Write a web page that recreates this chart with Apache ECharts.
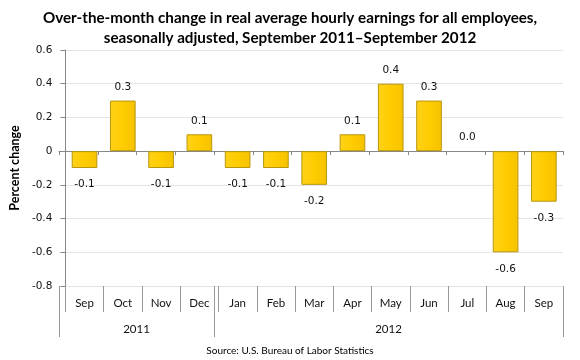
<!DOCTYPE html>
<html><head><meta charset="utf-8">
<script src="https://cdn.jsdelivr.net/npm/echarts@6/dist/echarts.min.js"></script>
<style>html,body{margin:0;padding:0;background:#fff}#c{width:580px;height:360px}</style>
</head><body><div id="c"></div>
<script>
var months = ['Sep','Oct','Nov','Dec','Jan','Feb','Mar','Apr','May','Jun','Jul','Aug','Sep'];
var values = [-0.1, 0.3, -0.1, 0.1, -0.1, -0.1, -0.2, 0.1, 0.4, 0.3, 0.0, -0.6, -0.3];
var years = ['2011', '2012'];
var yearStarts = [0, 4, 13];
var yTicks = [-0.8, -0.6, -0.4, -0.2, 0, 0.2, 0.4, 0.6];

var chart = echarts.init(document.getElementById('c'), null, {renderer: 'canvas'});
var G = {left: 59, right: 17, top: 50, bottom: 74};
var yearLabelPos = [];
for (var i = 0; i < years.length; i++) yearLabelPos.push((yearStarts[i] + yearStarts[i + 1]) / 2);

var numFont = 'DejaVu Sans';
var txtFont = 'Lato';

chart.setOption({
  animation: false,
  title: {
    text: 'Over-the-month change in real average hourly earnings for all employees,\nseasonally adjusted, September 2011\u2013September 2012',
    left: 'center', top: 3,
    padding: [5, 58, 5, 0],
    textStyle: {fontFamily: txtFont, fontWeight: 'bold', fontSize: 15.2, lineHeight: 20, color: '#000'}
  },
  graphic: [{
    type: 'text', x: 290, y: 351,
    style: {text: 'Source: U.S. Bureau of Labor Statistics', fontFamily: txtFont, fontSize: 10, fill: '#000', textAlign: 'center', textVerticalAlign: 'middle'}
  }],
  grid: [
    Object.assign({}, G),
    Object.assign({}, G),
    Object.assign({}, G)
  ],
  xAxis: [
    {
      gridIndex: 0, type: 'category', data: months, position: 'bottom',
      axisLine: {show: false, onZero: false},
      axisTick: {show: true, alignWithLabel: false, interval: 0, length: 26, lineStyle: {color: '#999'}},
      axisLabel: {interval: 0, margin: 11, fontFamily: txtFont, fontSize: 11.5, color: '#111'},
      splitLine: {show: false}
    },
    {
      gridIndex: 1, type: 'value', min: 0, max: months.length, position: 'bottom',
      axisLine: {show: false, onZero: false},
      axisTick: {show: true, customValues: yearStarts, length: 51, lineStyle: {color: '#999'}},
      axisLabel: {show: true, customValues: yearLabelPos, margin: 37, fontFamily: txtFont, fontSize: 11.5, color: '#111',
        formatter: function (v) { var k = yearLabelPos.indexOf(v); return k >= 0 ? years[k] : ''; }},
      splitLine: {show: false}
    },
    {
      gridIndex: 2, type: 'category', data: months,
      axisLine: {show: true, onZero: true, lineStyle: {color: '#888'}},
      axisTick: {show: true, interval: 0, length: 4, lineStyle: {color: '#888'}},
      axisLabel: {show: false},
      splitLine: {show: false}
    }
  ],
  yAxis: [
    {
      gridIndex: 0, type: 'value', min: -0.8, max: 0.6, interval: 0.2,
      name: 'Percent change', nameLocation: 'middle', nameGap: 40, nameRotate: 90,
      nameTextStyle: {fontFamily: txtFont, fontWeight: 'bold', fontSize: 12.5, color: '#000'},
      axisLine: {show: true, lineStyle: {color: '#888'}},
      axisTick: {show: true, length: 5, lineStyle: {color: '#888'}},
      axisLabel: {margin: 13, fontFamily: numFont, fontSize: 10.5, color: '#111',
        formatter: function (v) { return Math.abs(v) < 1e-9 ? '0' : v.toFixed(1); }},
      splitLine: {show: true, lineStyle: {color: '#e4e4e4'}}
    },
    {gridIndex: 1, type: 'value', min: -0.8, max: 0.6, show: false},
    {gridIndex: 2, type: 'value', min: -0.8, max: 0.6, interval: 0.2, show: false}
  ],
  series: [{
    type: 'bar', xAxisIndex: 0, yAxisIndex: 0,
    barCategoryGap: '33%',
    itemStyle: {
      color: new echarts.graphic.LinearGradient(0, 0, 1, 0, [
        {offset: 0, color: '#FFD21A'}, {offset: 0.5, color: '#FFCC00'}, {offset: 1, color: '#F5C200'}
      ]),
      borderColor: '#B8960F', borderWidth: 1
    },
    data: values.map(function (v) {
      return {
        value: v,
        itemStyle: v === 0 ? {borderWidth: 0} : undefined,
        label: {position: v < 0 ? 'bottom' : 'top', distance: v < 0 ? 11 : 8}
      };
    }),
    label: {show: true, fontFamily: numFont, fontSize: 10.5, color: '#111',
      formatter: function (p) { return p.value.toFixed(1); }}
  }]
});
</script></body></html>
